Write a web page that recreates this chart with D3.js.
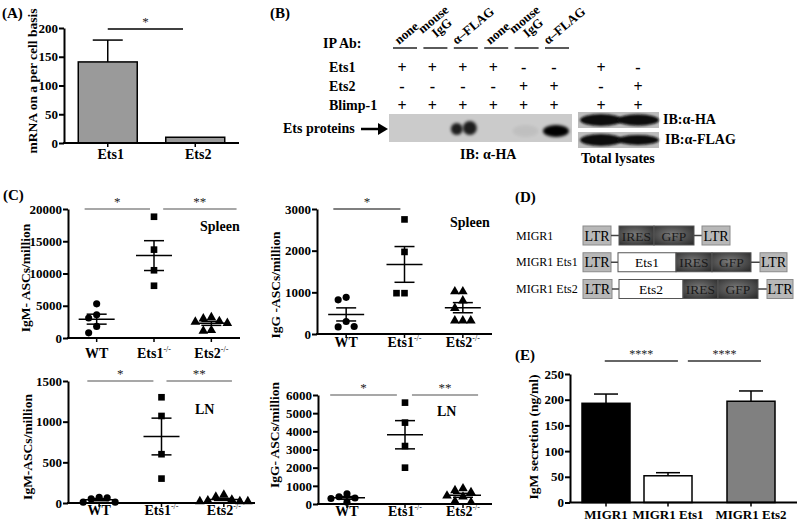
<!DOCTYPE html>
<html>
<head>
<meta charset="utf-8">
<script src="https://cdn.jsdelivr.net/npm/d3@7"></script>
<style>
  body { margin: 0; background: #fff; }
  svg { display: block; }
</style>
</head>
<body>
<svg id="fig" width="800" height="522"></svg>
<script>
// ---- datos de cada panel ----
// (A) mRNA por celula
const mrnaCats = ["Ets1", "Ets2"];
const mrnaMean = [141, 10];
const mrnaErr = [38, 0];
const mrnaTicks = [0, 50, 100, 150, 200];

// (B) co-IP
const ipAbs = ["none", "mouse IgG", "α–FLAG", "none", "mouse IgG", "α–FLAG"];
const rowNames = ["Ets1", "Ets2", "Blimp-1"];
const rowSigns = [
  ["+", "+", "+", "+", "-", "-", "+", "-"],
  ["-", "-", "-", "-", "+", "+", "-", "+"],
  ["+", "+", "+", "+", "+", "+", "+", "+"]
];
const ipBand = [0, 0, 0.85, 0, 0.05, 1];     // intensidad de banda IB: a-HA
const lysateHA = [1, 0.95];
const lysateFLAG = [1, 0.85];

// (C) ASCs por millon
const groups = ["WT", "Ets1", "Ets2"];
const igmSpleen = [[5300, 3600, 3100, 1800, 800], [18800, 13700, 10500, 8100], [3200, 3000, 2600, 2500, 2300, 1200, 1100]];
const iggSpleen = [[880, 820, 300, 170, 180], [2750, 1970, 980, 980], [1020, 1020, 800, 620, 320, 320, 320]];
const igmLN = [[70, 50, 65, 10, 10], [1300, 1070, 600, 300], [100, 75, 40, 30, 20, 20, 20]];
const iggLN = [[560, 400, 330, 300, 100], [5580, 4480, 3190, 2000], [850, 750, 650, 450, 400, 150, 100]];

// (D) construcciones
const constructNames = ["MIGR1", "MIGR1 Ets1", "MIGR1 Ets2"];
const constructParts = [
  [["LTR", 28], ["-", 8], ["IRES", 35], ["GFP", 40], ["-", 8], ["LTR", 28]],
  [["LTR", 28], ["-", 7], ["Ets1", 58], ["IRES", 36], ["GFP", 39], ["-", 9], ["LTR", 27]],
  [["LTR", 29], ["-", 7], ["Ets2", 64], ["IRES", 35], ["GFP", 40], ["-", 9], ["LTR", 26]]
];

// (E) secrecion de IgM
const secretionCats = ["MIGR1", "MIGR1 Ets1", "MIGR1 Ets2"];
const secretionMean = [193, 52, 197];
const secretionErr = [18, 6, 20];
const secretionTicks = [0, 50, 100, 150, 200, 250];

const FONT = '"Liberation Serif", "Times New Roman", serif';

const svg = d3.select("#fig");
svg.append("rect").attr("width", 800).attr("height", 522).attr("fill", "#fff");

const defs = svg.append("defs");
defs.append("filter").attr("id", "blur").attr("x", "-50%").attr("y", "-50%").attr("width", "200%").attr("height", "200%")
  .append("feGaussianBlur").attr("stdDeviation", 1.8);
defs.append("filter").attr("id", "blur2").attr("x", "-50%").attr("y", "-50%").attr("width", "200%").attr("height", "200%")
  .append("feGaussianBlur").attr("stdDeviation", 1.1);
const rg = defs.append("radialGradient").attr("id", "dark").attr("cx", "45%").attr("cy", "45%").attr("r", "70%");
rg.append("stop").attr("offset", "0%").attr("stop-color", "#7a7a7a");
rg.append("stop").attr("offset", "100%").attr("stop-color", "#2e2e2e");

function txt(x, y, s, size, opts = {}) {
  return svg.append("text").attr("x", x).attr("y", y).text(s)
    .attr("font-family", FONT).attr("font-size", size)
    .attr("font-weight", opts.weight || "bold")
    .attr("text-anchor", opts.anchor || "start")
    .attr("fill", opts.fill || "#000");
}

function vlabel(x, y, s, size) {
  svg.append("text").attr("transform", `translate(${x},${y}) rotate(-90)`)
    .attr("text-anchor", "middle").attr("font-family", FONT).attr("font-size", size)
    .attr("font-weight", "bold").text(s);
}

function yAxis(scale, x, ticks) {
  const a = svg.append("g").attr("transform", `translate(${x},0)`)
    .call(d3.axisLeft(scale).tickValues(ticks).tickSize(5).tickSizeOuter(0).tickPadding(1).tickFormat(d3.format("d")))
    .attr("font-family", FONT).attr("font-size", 13).attr("font-weight", "bold");
  a.select(".domain").attr("stroke-width", 2);
  a.selectAll(".tick line").attr("stroke-width", 2);
  a.selectAll(".tick text").attr("fill", "#000");
}

function xAxisLine(x0, x1, y, centers) {
  svg.append("line").attr("x1", x0 - 1).attr("x2", x1).attr("y1", y).attr("y2", y)
    .attr("stroke", "#000").attr("stroke-width", 2);
  centers.forEach(c => svg.append("line").attr("x1", c).attr("x2", c).attr("y1", y).attr("y2", y + 4)
    .attr("stroke", "#000").attr("stroke-width", 1.5));
}

function sigBar(x0, x1, y, label, color, size) {
  svg.append("line").attr("x1", x0).attr("x2", x1).attr("y1", y).attr("y2", y)
    .attr("stroke", color).attr("stroke-width", 1.5);
  txt((x0 + x1) / 2, y - 3, label, size || 13, { anchor: "middle", weight: "normal", fill: "#222" });
}

// ---------------- (A) ----------------
txt(2, 18, "(A)", 15);
const xA = d3.scaleBand().domain(mrnaCats).range([64, 239]).paddingInner(0.326).paddingOuter(0.163);
const yA = d3.scaleLinear().domain([0, 200]).range([143, 28]);
mrnaCats.forEach((c, i) => {
  const cx = xA(c) + xA.bandwidth() / 2;
  if (mrnaErr[i] > 0) {
    svg.append("line").attr("x1", cx).attr("x2", cx).attr("y1", yA(mrnaMean[i])).attr("y2", yA(mrnaMean[i] + mrnaErr[i]))
      .attr("stroke", "#000").attr("stroke-width", 1.5);
    svg.append("line").attr("x1", cx - 15).attr("x2", cx + 15).attr("y1", yA(mrnaMean[i] + mrnaErr[i])).attr("y2", yA(mrnaMean[i] + mrnaErr[i]))
      .attr("stroke", "#000").attr("stroke-width", 1.5);
  }
  svg.append("rect").attr("x", xA(c)).attr("y", yA(mrnaMean[i])).attr("width", xA.bandwidth())
    .attr("height", yA(0) - yA(mrnaMean[i])).attr("fill", "#9a9a9a").attr("stroke", "#000").attr("stroke-width", 1.5);
});
yAxis(yA, 64, mrnaTicks);
const centersA = mrnaCats.map(c => xA(c) + xA.bandwidth() / 2);
xAxisLine(64, 239, yA(0), centersA);
mrnaCats.forEach((c, i) => txt(centersA[i] + 3, 159, c, 14, { anchor: "middle" }));
vlabel(37, 81, "mRNA on a per cell basis", 13.5);
{
  const u = d3.scaleLinear().domain([0, 1]).range(centersA);
  sigBar(u(0), u(0.86), 29, "*", "#000");
}

// ---------------- (B) ----------------
txt(270, 18, "(B)", 15);
const laneX = d3.scalePoint().domain(d3.range(6)).range([402, 554]);
const lysX = d3.scalePoint().domain([0, 1]).range([601, 638]);
const colX = i => i < 6 ? laneX(i) : lysX(i - 6);

txt(323, 48, "IP Ab:", 14);
ipAbs.forEach((lab, i) => {
  const x = laneX(i);
  svg.append("line").attr("x1", x - 9).attr("x2", x + 15).attr("y1", 48).attr("y2", 48)
    .attr("stroke", "#000").attr("stroke-width", 1.3);
  if (lab === "mouse IgG") {
    const g = svg.append("g").attr("transform", `translate(${x - 10},34) rotate(-40)`);
    g.append("text").text("mouse").attr("font-family", FONT).attr("font-size", 13).attr("font-weight", "bold");
    g.append("text").text("IgG").attr("x", 8).attr("y", 12).attr("font-family", FONT).attr("font-size", 13).attr("font-weight", "bold");
  } else {
    const dx = lab === "none" ? -3 : -6;
    svg.append("text").attr("transform", `translate(${x + dx},45) rotate(-40)`).text(lab)
      .attr("font-family", FONT).attr("font-size", 13).attr("font-weight", "bold");
  }
});
rowNames.forEach((r, k) => {
  const y = 72 + k * 19;
  txt(329, y, r, 14);
  rowSigns[k].forEach((s, i) => txt(colX(i), y + 1, s, 16, { anchor: "middle" }));
});
// tira del IP
svg.append("rect").attr("x", 389).attr("y", 114).attr("width", 183).attr("height", 28).attr("fill", "#cbcbcb");
ipBand.forEach((v, i) => {
  if (v <= 0) return;
  const x = laneX(i);
  if (i === 2) {
    [-6, 7].forEach((d, j) => svg.append("ellipse").attr("cx", x + d).attr("cy", 129 - j).attr("rx", 6 + j).attr("ry", 6 + j)
      .attr("fill", "#000").attr("opacity", v).attr("filter", "url(#blur)"));
  } else {
    svg.append("ellipse").attr("cx", x + 2).attr("cy", 131).attr("rx", 13).attr("ry", 6)
      .attr("fill", "#000").attr("opacity", v).attr("filter", "url(#blur)");
  }
});
txt(283, 133, "Ets proteins", 14);
svg.append("line").attr("x1", 361).attr("x2", 380).attr("y1", 129).attr("y2", 129).attr("stroke", "#000").attr("stroke-width", 2.5);
svg.append("path").attr("d", "M378,123 L388,129 L378,135 Z").attr("fill", "#000");
txt(460, 159, "IB: α-HA", 14);

// lisados totales
[[112, lysateHA], [132, lysateFLAG]].forEach(([y0, vals]) => {
  svg.append("rect").attr("x", 578).attr("y", y0).attr("width", 81).attr("height", 16).attr("fill", "#bdbdbd");
  vals.forEach((v, j) => svg.append("ellipse").attr("cx", lysX(j)).attr("cy", y0 + 8).attr("rx", 21).attr("ry", 6 * v)
    .attr("fill", "#0c0c0c").attr("filter", "url(#blur2)"));
});
txt(663, 124, "IB:α-HA", 14);
txt(665, 144, "IB:α-FLAG", 14);
txt(581, 163, "Total lysates", 14);

// ---------------- (C) ----------------
txt(3, 200, "(C)", 15);
const markers = [d3.symbolCircle, d3.symbolSquare, d3.symbolTriangle];
const markerSize = [40, 44, 40];

function dodge(vals, y, size) {
  const placed = [];
  return vals.map(v => {
    const py = y(v);
    for (let k = 0; ; k++) {
      const off = k === 0 ? 0 : (k % 2 ? -1 : 1) * Math.ceil(k / 2) * size;
      if (placed.every(p => Math.abs(p[0] - off) >= size || Math.abs(p[1] - py) >= size)) {
        placed.push([off, py]);
        return [off, py];
      }
    }
  });
}

function scatterPanel(p) {
  const y = d3.scaleLinear().domain([0, p.max]).range([p.bottom, p.top]);
  const x = d3.scalePoint().domain(groups).range([p.left, p.right]).padding(0.5);
  const ticks = d3.range(0, p.max + 1, p.step);
  p.data.forEach((vals, gi) => {
    const cx = x(groups[gi]);
    dodge(vals, y, 8).forEach(([off, py]) => {
      svg.append("path").attr("d", d3.symbol(markers[gi], markerSize[gi])())
        .attr("transform", `translate(${cx + off},${py})`).attr("fill", "#000");
    });
    const m = d3.mean(vals);
    const sem = d3.deviation(vals) / Math.sqrt(vals.length);
    const ln = (x1, x2, y1, y2) => svg.append("line").attr("x1", x1).attr("x2", x2).attr("y1", y1).attr("y2", y2)
      .attr("stroke", "#000").attr("stroke-width", 1.5);
    ln(cx - 18, cx + 18, y(m), y(m));
    ln(cx, cx, y(m - sem), y(m + sem));
    ln(cx - 10, cx + 10, y(m - sem), y(m - sem));
    ln(cx - 10, cx + 10, y(m + sem), y(m + sem));
  });
  yAxis(y, p.left, ticks);
  xAxisLine(p.left, p.right, p.bottom, groups.map(g => x(g)));
  groups.forEach(g => {
    const t = txt(x(g), p.xLabY, g, 14, { anchor: "middle" });
    if (g !== "WT") t.append("tspan").text("-/-").attr("font-size", 8).attr("font-weight", "normal").attr("dy", -6);
  });
  vlabel(p.labX, p.labY, p.ylabel, 13.5);
  txt(p.tX, p.tY, p.tissue, 14);
  const u = d3.scaleLinear().domain([0, 1]).range([x("WT"), x("Ets1")]);
  p.sig.forEach(([a, b, s]) => sigBar(u(a), u(b), p.top, s, p.sigColor));
}

scatterPanel({ data: igmSpleen, left: 68, right: 240, top: 209, bottom: 338, max: 20000, step: 5000,
  ylabel: "IgM- ASCs/million", labX: 30, labY: 278, tissue: "Spleen", tX: 200, tY: 231, xLabY: 358,
  sig: [[-0.21, 0.93, "*"], [1.16, 2.44, "**"]], sigColor: "#8a8a8a" });
scatterPanel({ data: iggSpleen, left: 317, right: 492, top: 209, bottom: 334, max: 3000, step: 1000,
  ylabel: "IgG -ASCs/million", labX: 280, labY: 285, tissue: "Spleen", tX: 450, tY: 227, xLabY: 347,
  sig: [[-0.22, 0.93, "*"]], sigColor: "#555" });
scatterPanel({ data: igmLN, left: 68, right: 255, top: 381, bottom: 503, max: 1500, step: 500,
  ylabel: "IgM-ASCs/million", labX: 32, labY: 447, tissue: "LN", tX: 195, tY: 414, xLabY: 515,
  sig: [[-0.19, 0.87, "*"], [1.08, 2.13, "**"]], sigColor: "#8a8a8a" });
scatterPanel({ data: iggLN, left: 318, right: 492, top: 395, bottom: 504, max: 6000, step: 1000,
  ylabel: "IgG- ASCs/million", labX: 279, labY: 435, tissue: "LN", tX: 437, tY: 416, xLabY: 516,
  sig: [[-0.29, 0.86, "*"], [1.12, 2.26, "**"]], sigColor: "#8a8a8a" });

// ---------------- (D) ----------------
txt(515, 202, "(D)", 15);
const rowY = d3.scalePoint().domain(constructNames).range([235.5, 289]);
constructNames.forEach((name, r) => {
  const yc = rowY(name);
  txt(516, yc + 4, name, 12, { weight: "normal" });
  const lens = constructParts[r].map(p => p[1]);
  const pos = d3.scaleLinear().domain([0, d3.sum(lens)]).range([583, 583 + d3.sum(lens)]);
  let acc = 0;
  constructParts[r].forEach(([lab, len]) => {
    const x0 = pos(acc), x1 = pos(acc + len);
    acc += len;
    if (lab === "-") {
      svg.append("line").attr("x1", x0).attr("x2", x1).attr("y1", yc).attr("y2", yc).attr("stroke", "#444").attr("stroke-width", 1.5);
      return;
    }
    const fill = lab === "LTR" ? "#b8b8b8" : (lab.startsWith("Ets") ? "#fff" : "url(#dark)");
    svg.append("rect").attr("x", x0).attr("y", yc - 9.5).attr("width", x1 - x0).attr("height", 19)
      .attr("fill", fill).attr("stroke", lab === "LTR" ? "#8a8a8a" : "#555").attr("stroke-width", 1);
    txt((x0 + x1) / 2, yc + 5, lab, lab === "LTR" ? 14 : 13.5,
      { anchor: "middle", weight: "normal", fill: (lab === "IRES" || lab === "GFP") ? "#1a1a1a" : "#000" });
  });
});

// ---------------- (E) ----------------
txt(515, 360, "(E)", 15);
const yE = d3.scaleLinear().domain([0, 250]).range([502.5, 374]);
const xE = d3.scaleOrdinal().domain(secretionCats).range([606, 668, 751]);
const fillE = ["#000", "#fff", "#808080"];
secretionCats.forEach((c, i) => {
  const cx = xE(c);
  svg.append("line").attr("x1", cx).attr("x2", cx).attr("y1", yE(secretionMean[i])).attr("y2", yE(secretionMean[i] + secretionErr[i]))
    .attr("stroke", "#000").attr("stroke-width", 1.5);
  svg.append("line").attr("x1", cx - 12).attr("x2", cx + 12).attr("y1", yE(secretionMean[i] + secretionErr[i])).attr("y2", yE(secretionMean[i] + secretionErr[i]))
    .attr("stroke", "#000").attr("stroke-width", 1.5);
  svg.append("rect").attr("x", cx - 24).attr("y", yE(secretionMean[i])).attr("width", 48)
    .attr("height", yE(0) - yE(secretionMean[i])).attr("fill", fillE[i]).attr("stroke", "#000").attr("stroke-width", 1.5);
});
yAxis(yE, 570, secretionTicks);
xAxisLine(570, 797, yE(0), secretionCats.map(c => xE(c)));
secretionCats.forEach(c => {
  const t = txt(xE(c), 519, c, 13, { anchor: "middle" });
  // mantener la etiqueta dentro del lienzo
  const w = t.node().getComputedTextLength();
  if (xE(c) + w / 2 > 798) t.attr("x", 798 - w / 2);
});
vlabel(538, 437, "IgM secretion (ng/ml)", 13.5);
{
  const u = d3.scaleLinear().domain([0, 1]).range([xE("MIGR1"), xE("MIGR1 Ets1")]);
  sigBar(u(-0.02), u(1.16), 361, "****", "#333", 12);
  sigBar(u(1.32), u(2.5), 361, "****", "#333", 12);
}
</script>
</body>
</html>
